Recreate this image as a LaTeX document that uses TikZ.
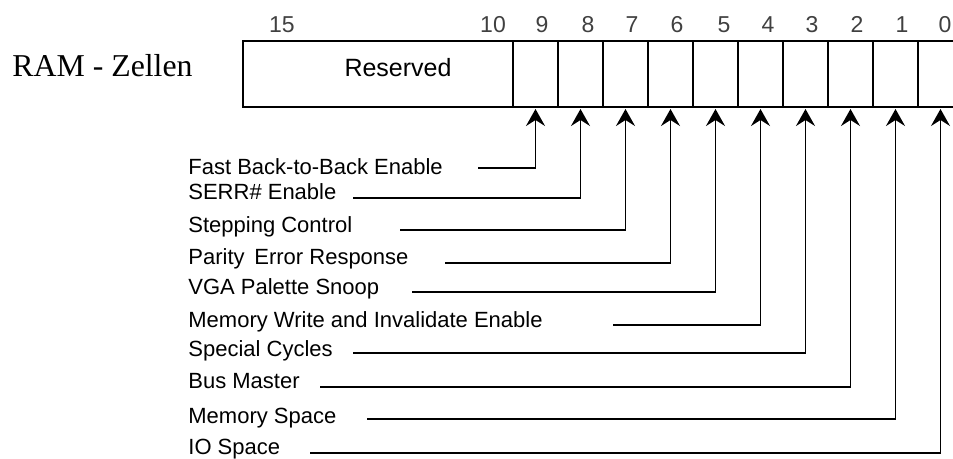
\documentclass[tikz,border=0pt]{standalone}
\usepackage{fontspec}
\setmainfont{Liberation Sans}
\newfontfamily\ramfont{Liberation Serif}
\usetikzlibrary{positioning, arrows.meta, calc}
\tikzset{
  field/.style={draw, line width=0.9pt, minimum height=33pt, inner sep=0pt, outer sep=0pt},
  cell/.style={field, minimum width=22.5pt},
  bitno/.style={font=\fontsize{11.5}{13}\selectfont, text=black!75, anchor=base, inner sep=0pt},
  flag/.style={font=\fontsize{11}{13}\selectfont, anchor=base west, inner sep=0pt},
  feed/.style={line width=0.9pt, -{Stealth[length=8.5pt, width=9.5pt, inset=3pt]}, shorten >=1pt},
}

\begin{document}
\begin{tikzpicture}[x=0.5pt, y=-0.5pt, node distance=0pt]
  \useasboundingbox (0,0) rectangle (953,459);
  \clip (0,0) rectangle (953,459);
  \node[font=\ramfont\fontsize{15.9}{18}\selectfont, anchor=base west, inner sep=0pt] (title) at (12,77) {RAM - Zellen};

  % register
  \node[field, minimum width=135pt] (res) at (378,74) {};
  \node[font=\fontsize{12.5}{15}\selectfont] (restext) at ($(res.center)+(20,-6)$) {Reserved};
  \node[cell, right=of res] (b9) {};
  \node[cell, right=of b9] (b8) {};
  \node[cell, right=of b8] (b7) {};
  \node[cell, right=of b7] (b6) {};
  \node[cell, right=of b6] (b5) {};
  \node[cell, right=of b5] (b4) {};
  \node[cell, right=of b4] (b3) {};
  \node[cell, right=of b3] (b2) {};
  \node[cell, right=of b2] (b1) {};
  \node[cell, right=of b1] (b0) {};

  % bit numbers
  \node[bitno] (n15) at (282,33) {15};
  \node[bitno] (n10) at (493,33) {10};
  \node[bitno] (n9) at (542,33) {9};
  \node[bitno] (n8) at (588,33) {8};
  \node[bitno] (n7) at (632,33) {7};
  \node[bitno] (n6) at (677,33) {6};
  \node[bitno] (n5) at (724,33) {5};
  \node[bitno] (n4) at (768,33) {4};
  \node[bitno] (n3) at (812,33) {3};
  \node[bitno] (n2) at (857,33) {2};
  \node[bitno] (n1) at (902,33) {1};
  \node[bitno] (n0) at (945,33) {0};

  % flag names
  \node[flag] (l9) at (188,175) {Fast Back-to-Back Enable};
  \node[flag] (l8) at (188,200) {SERR\# Enable};
  \node[flag] (l7) at (188,233) {Stepping Control};
  \node[flag] (l6) at (188,265) {Parity\, Error Response};
  \node[flag] (l5) at (188,295) {VGA Palette Snoop};
  \node[flag] (l4) at (188,328) {Memory Write and Invalidate Enable};
  \node[flag] (l3) at (188,357) {Special Cycles};
  \node[flag] (l2) at (188,389) {Bus Master};
  \node[flag] (l1) at (188,423) {Memory Space};
  \node[flag] (l0) at (188,455) {IO Space};

  \coordinate (s9) at (478,168);
  \coordinate (s8) at (353,198);
  \coordinate (s7) at (400,230);
  \coordinate (s6) at (445,263);
  \coordinate (s5) at (412,292);
  \coordinate (s4) at (613,325);
  \coordinate (s3) at (353,353);
  \coordinate (s2) at (320,387);
  \coordinate (s1) at (367,419);
  \coordinate (s0) at (310,453);

  \draw[feed] (s9) -| (b9.south);
  \draw[feed] (s8) -| (b8.south);
  \draw[feed] (s7) -| (b7.south);
  \draw[feed] (s6) -| (b6.south);
  \draw[feed] (s5) -| (b5.south);
  \draw[feed] (s4) -| (b4.south);
  \draw[feed] (s3) -| (b3.south);
  \draw[feed] (s2) -| (b2.south);
  \draw[feed] (s1) -| (b1.south);
  \draw[feed] (s0) -| (b0.south);
\end{tikzpicture}
\end{document}
